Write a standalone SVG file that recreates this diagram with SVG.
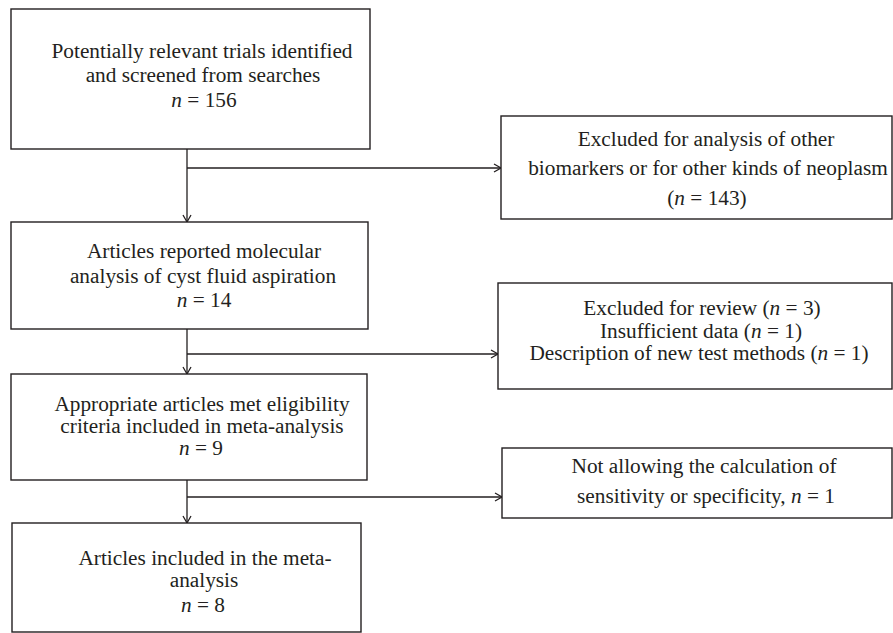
<svg xmlns="http://www.w3.org/2000/svg" width="893" height="633" viewBox="0 0 893 633">
<style>
.box{fill:#fff;stroke:#231f20;stroke-width:1.4}
.t{font-family:"Liberation Serif","Times New Roman",serif;font-size:21.3px;fill:#231f20;text-anchor:middle}
.i{font-style:italic}
.c{fill:none;stroke:#231f20;stroke-width:1.3}
</style>
<defs>
<marker id="ah" markerWidth="10" markerHeight="10" refX="8" refY="5" orient="auto" markerUnits="userSpaceOnUse">
<polyline points="1,1 8,5 1,9" fill="none" stroke="#231f20" stroke-width="1.3"/>
</marker>
</defs>
<rect width="893" height="633" fill="#fff"/>
<g id="connectors">
<line class="c" x1="187" y1="149" x2="187" y2="222" marker-end="url(#ah)"/>
<line class="c" x1="187" y1="168" x2="501" y2="168" marker-end="url(#ah)"/>
<line class="c" x1="187" y1="329" x2="187" y2="374" marker-end="url(#ah)"/>
<line class="c" x1="187" y1="354" x2="498" y2="354" marker-end="url(#ah)"/>
<line class="c" x1="187" y1="480" x2="187" y2="523" marker-end="url(#ah)"/>
<line class="c" x1="187" y1="497" x2="502" y2="497" marker-end="url(#ah)"/>
</g>
<g id="n1">
<rect class="box" x="11" y="9" width="359" height="140"/>
<text class="t" x="202" y="58">Potentially relevant trials identified</text>
<text class="t" x="203" y="82">and screened from searches</text>
<text class="t" x="204" y="107"><tspan class="i">n</tspan> = 156</text>
</g>
<g id="n2">
<rect class="box" x="501" y="116" width="391" height="103"/>
<text class="t" x="706" y="146">Excluded for analysis of other</text>
<text class="t" x="708" y="175">biomarkers or for other kinds of neoplasm</text>
<text class="t" x="707" y="205">(<tspan class="i">n</tspan> = 143)</text>
</g>
<g id="n3">
<rect class="box" x="11" y="222" width="357" height="107"/>
<text class="t" x="204" y="258">Articles reported molecular</text>
<text class="t" x="203" y="283">analysis of cyst fluid aspiration</text>
<text class="t" x="204" y="307"><tspan class="i">n</tspan> = 14</text>
</g>
<g id="n4">
<rect class="box" x="498" y="283" width="394" height="106"/>
<text class="t" x="702" y="315">Excluded for review (<tspan class="i">n</tspan> = 3)</text>
<text class="t" x="701" y="338">Insufficient data (<tspan class="i">n</tspan> = 1)</text>
<text class="t" x="699" y="360">Description of new test methods (<tspan class="i">n</tspan> = 1)</text>
</g>
<g id="n5">
<rect class="box" x="11" y="374" width="356" height="106"/>
<text class="t" x="202" y="411">Appropriate articles met eligibility</text>
<text class="t" x="202" y="433">criteria included in meta-analysis</text>
<text class="t" x="201" y="455"><tspan class="i">n</tspan> = 9</text>
</g>
<g id="n6">
<rect class="box" x="502" y="448" width="390" height="70"/>
<text class="t" x="704" y="473">Not allowing the calculation of</text>
<text class="t" x="706" y="503">sensitivity or specificity, <tspan class="i">n</tspan> = 1</text>
</g>
<g id="n7">
<rect class="box" x="12" y="523" width="349" height="109"/>
<text class="t" x="205" y="565">Articles included in the meta-</text>
<text class="t" x="204" y="587">analysis</text>
<text class="t" x="203" y="612"><tspan class="i">n</tspan> = 8</text>
</g>
</svg>
